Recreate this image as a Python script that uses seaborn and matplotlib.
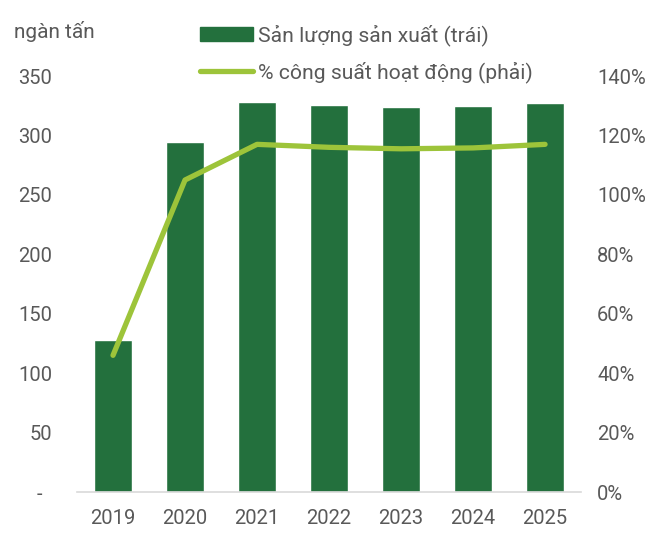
import matplotlib
matplotlib.use("Agg")
import matplotlib.pyplot as plt
import seaborn as sns
import pandas as pd
from matplotlib.patches import Patch
from matplotlib.lines import Line2D

# data
years = ["2019", "2020", "2021", "2022", "2023", "2024", "2025"]
production = [128, 294.5, 328, 325.5, 324, 324.8, 327.5]   # ngàn tấn
utilization = [46, 105, 117, 116, 115.5, 115.8, 117]       # %

bar_color = "#23703d"
line_color = "#9dc43a"
text_color = "#595959"

sns.set_theme(style="white")
plt.rcParams['font.family'] = ['Roboto', 'DejaVu Sans']

df = pd.DataFrame({"year": years, "prod": production, "util": utilization})

fig = plt.figure(figsize=(6.65, 5.33), dpi=100)
ax = fig.add_axes([0.1158, 0.0769, 0.758, 0.7805])

sns.barplot(data=df, x="year", y="prod", color=bar_color, width=0.53,
            saturation=1, ax=ax)
ax.set_ylim(0, 350)
ax.set_yticks(range(0, 351, 50))
ax.set_yticklabels(["-  "] + [str(v) for v in range(50, 351, 50)])
ax.set_xlabel("")
ax.set_ylabel("")

ax2 = ax.twinx()
sns.lineplot(data=df, x="year", y="util", color=line_color, linewidth=3.8,
             solid_capstyle="round", ax=ax2)
ax2.set_ylim(0, 140)
ax2.set_yticks(range(0, 141, 20))
ax2.set_yticklabels([f"{v}%" for v in range(0, 141, 20)])
ax2.set_ylabel("")
ax2.set_xlim(-0.5, 6.5)
ax.set_xlim(-0.5, 6.5)

for a in (ax, ax2):
    for s in a.spines.values():
        s.set_visible(False)
    a.tick_params(length=0, labelsize=14.5, colors=text_color)
ax.spines["bottom"].set_visible(True)
ax.spines["bottom"].set_color("#d9d9d9")
ax.spines["bottom"].set_linewidth(1.2)
ax.tick_params(axis="y", pad=18)
ax.tick_params(axis="x", pad=12)
ax2.tick_params(axis="y", pad=11.5)

fig.text(14 / 665, 1 - 31 / 533, "ngàn tấn", fontsize=15, color=text_color,
         va="center", ha="left")

handles = [Patch(facecolor=bar_color, edgecolor=bar_color),
           Line2D([0], [0], color=line_color, linewidth=3.8, solid_capstyle="round")]
labels = ["Sản lượng sản xuất (trái)", "% công suất hoạt động (phải)"]
fig.legend(handles, labels, loc="upper left", bbox_to_anchor=(192 / 665, 1 - 16 / 533),
           frameon=False, fontsize=15.2, labelcolor=text_color, handlelength=2.5,
           handleheight=0.6, handletextpad=0.25, labelspacing=0.7, borderaxespad=0)

fig.savefig("out.png", dpi=100)
